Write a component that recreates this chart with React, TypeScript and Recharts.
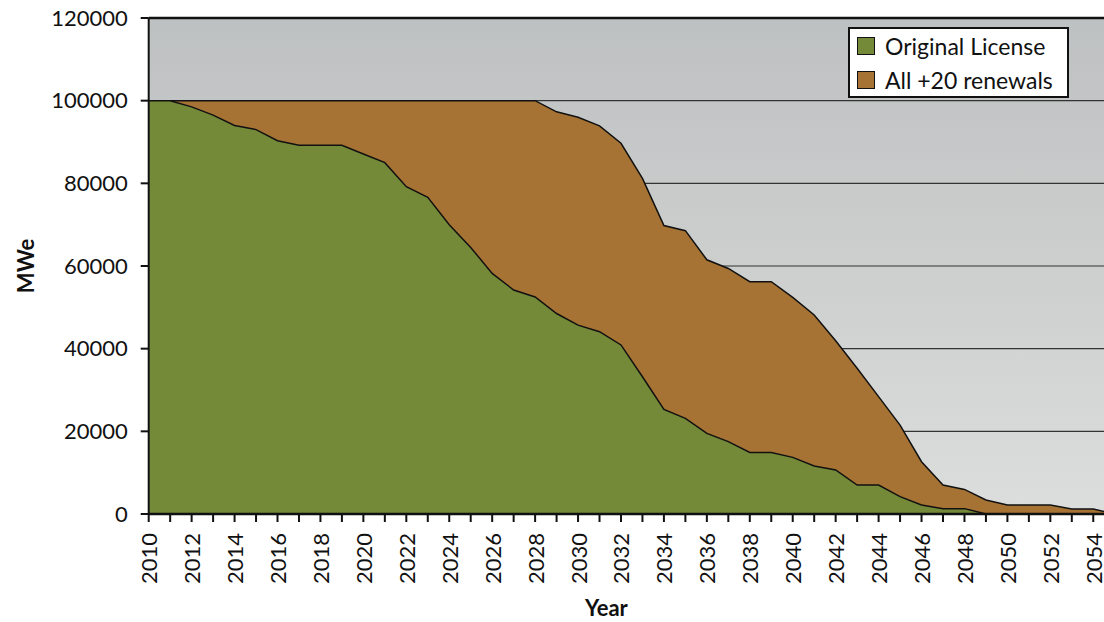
import React from 'react';
import { AreaChart, Area, XAxis, YAxis, CartesianGrid, ReferenceLine } from 'recharts';

const years = [
  2010, 2011, 2012, 2013, 2014, 2015, 2016, 2017, 2018, 2019,
  2020, 2021, 2022, 2023, 2024, 2025, 2026, 2027, 2028, 2029,
  2030, 2031, 2032, 2033, 2034, 2035, 2036, 2037, 2038, 2039,
  2040, 2041, 2042, 2043, 2044, 2045, 2046, 2047, 2048, 2049,
  2050, 2051, 2052, 2053, 2054, 2055,
];

const originalLicense = [
  100000, 100000, 98500, 96500, 94000, 93000, 90300, 89200, 89200, 89200,
  87100, 85000, 79200, 76600, 70000, 64500, 58200, 54200, 52500, 48500,
  45700, 44100, 40900, 33200, 25300, 23150, 19500, 17500, 14900, 14900,
  13700, 11600, 10650, 7000, 7000, 4200, 2200, 1300, 1300, 0,
  0, 0, 0, 0, 0, 0,
];

const allRenewals = [
  100000, 100000, 100000, 100000, 100000, 100000, 100000, 100000, 100000, 100000,
  100000, 100000, 100000, 100000, 100000, 100000, 100000, 100000, 100000, 97300,
  96000, 93900, 89700, 81200, 69800, 68550, 61500, 59400, 56200, 56200,
  52400, 48150, 41900, 35250, 28400, 21500, 12650, 7000, 5950, 3400,
  2200, 2200, 2200, 1200, 1200, 0,
];

const yTicks = [0, 20000, 40000, 60000, 80000, 100000, 120000];
const xTicks = years.filter((y) => y <= 2054);

const seriesNames = ['Original License', 'All +20 renewals'];
const GREEN = '#758a38';
const BROWN = '#a77334';
const FONT = 'Lato, "Open Sans", sans-serif';

const data = years.map((year, i) => ({
  year,
  original: originalLicense[i],
  renewals: allRenewals[i],
}));

const XTick = (props: any) => {
  const { x, y, payload } = props;
  const v = payload.value;
  if (v % 2 !== 0) return null;
  const ty = y + 9;
  return (
    <text
      x={x}
      y={ty}
      transform={`rotate(-90, ${x}, ${ty})`}
      textAnchor="end"
      dominantBaseline="central"
      fontSize={22}
      fontFamily={FONT}
      fill="#111"
    >
      {v}
    </text>
  );
};

const LegendBox = () => (
  <div
    style={{
      position: 'absolute',
      left: 848,
      top: 27,
      width: 221,
      height: 71,
      background: '#fff',
      border: '2px solid #111',
      padding: '0px 6px 0px 7px',
      fontFamily: FONT,
      fontSize: 23,
      color: '#111',
      lineHeight: '34px',
      boxSizing: 'border-box',
    }}
  >
    {[GREEN, BROWN].map((c, i) => (
      <div key={i} style={{ display: 'flex', alignItems: 'center', whiteSpace: 'nowrap' }}>
        <span
          style={{
            display: 'inline-block',
            width: 16,
            height: 16,
            background: c,
            border: '1.5px solid #111',
            marginRight: 10,
          }}
        />
        <span>{seriesNames[i]}</span>
      </div>
    ))}
  </div>
);

export default function App() {
  return (
    <div style={{ position: 'absolute', left: 0, top: 0, width: 1104, height: 622 }}>
      <AreaChart
        width={1104}
        height={622}
        data={data}
        margin={{ top: 18, right: 0, bottom: 0, left: 0 }}
      >
        <defs>
          <linearGradient id="bgGrad" x1="0" y1="0" x2="0" y2="1">
            <stop offset="0%" stopColor="#bec1c1" />
            <stop offset="100%" stopColor="#dcdddd" />
          </linearGradient>
        </defs>
        <CartesianGrid
          vertical={false}
          fill="url(#bgGrad)"
          fillOpacity={1}
          stroke="#333"
          strokeWidth={1.2}
          horizontalValues={yTicks}
        />
        <XAxis
          dataKey="year"
          type="number"
          domain={[2010, 2054.5]}
          allowDataOverflow
          ticks={xTicks}
          interval={0}
          tick={<XTick />}
          tickSize={8}
          tickLine={{ stroke: '#111', strokeWidth: 2 }}
          axisLine={{ stroke: '#111', strokeWidth: 2.5 }}
          height={108}
          label={{
            content: (p: any) => {
              const vb = p.viewBox;
              return (
                <text
                  x={vb.x + vb.width / 2 - 20}
                  y={vb.y + 102}
                  textAnchor="middle"
                  fontSize={22}
                  fontWeight="bold"
                  fontFamily={FONT}
                  fill="#111"
                >
                  Year
                </text>
              );
            },
          }}
        />
        <YAxis
          type="number"
          domain={[0, 120000]}
          ticks={yTicks}
          interval={0}
          width={148.7}
          tickSize={8}
          tickMargin={13}
          tick={{ fontSize: 22, fontFamily: FONT, fill: '#111' }}
          tickLine={{ stroke: '#111', strokeWidth: 2 }}
          axisLine={{ stroke: '#111', strokeWidth: 2 }}
          label={{
            content: (p: any) => {
              const vb = p.viewBox;
              const cx = vb.x + 25;
              const cy = vb.y + vb.height / 2;
              return (
                <text
                  x={cx}
                  y={cy}
                  transform={`rotate(-90, ${cx}, ${cy})`}
                  textAnchor="middle"
                  dominantBaseline="central"
                  fontSize={22}
                  fontWeight="bold"
                  fontFamily={FONT}
                  fill="#111"
                >
                  MWe
                </text>
              );
            },
          }}
        />
        <Area
          type="linear"
          dataKey="renewals"
          name={seriesNames[1]}
          fill={BROWN}
          fillOpacity={1}
          stroke="#111"
          strokeWidth={1.5}
          dot={false}
          activeDot={false}
          isAnimationActive={false}
        />
        <Area
          type="linear"
          dataKey="original"
          name={seriesNames[0]}
          fill={GREEN}
          fillOpacity={1}
          stroke="#111"
          strokeWidth={1.5}
          dot={false}
          activeDot={false}
          isAnimationActive={false}
        />
        <ReferenceLine y={120000} stroke="#111" strokeWidth={2.5} />
      </AreaChart>
      <LegendBox />
    </div>
  );
}
